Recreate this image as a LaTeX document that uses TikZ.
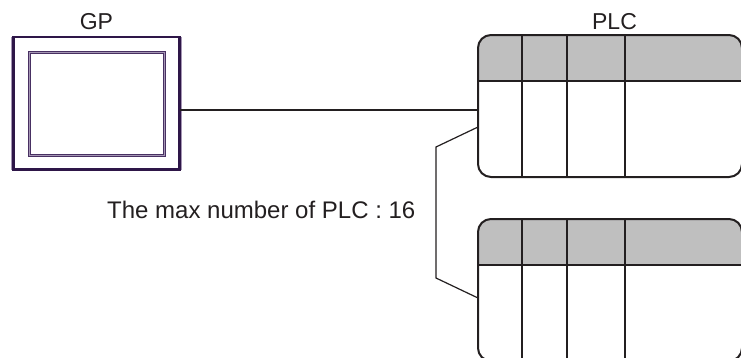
\documentclass[tikz,border=0pt]{standalone}
\usepackage{fontspec}
\setmainfont{Liberation Sans}
\usetikzlibrary{positioning}
\definecolor{gpframe}{RGB}{46,22,72}
\definecolor{gpinner}{RGB}{72,48,98}
\definecolor{gpstripe}{RGB}{165,150,180}
\definecolor{plcline}{RGB}{35,31,32}
\definecolor{plchead}{RGB}{191,191,191}
\tikzset{
	label text/.style={inner sep=0pt, text=plcline, font=\fontsize{23}{26}\selectfont},
	wire/.style={draw=plcline, line width=1.2pt},
	gp frame/.style={rectangle, draw=gpframe, line width=2.8pt, inner sep=0pt, outer sep=0pt,
		minimum width=166.2pt, minimum height=132.5pt},
	gp screen/.style={rectangle, draw=gpinner, line width=1.2pt, double=gpstripe, double distance=.6pt,
		inner sep=0pt, outer sep=0pt, minimum width=135.5pt, minimum height=103.5pt},
	stripe/.style={draw=gpstripe, line width=1.2pt},
	plc box/.style={rectangle, rounded corners=13pt, draw=plcline, line width=2pt,
		inner sep=0pt, outer sep=0pt, minimum width=264pt, minimum height=142pt,
		path picture={
			\fill[plchead, sharp corners] (path picture bounding box.north west) rectangle
				([yshift=-46pt]path picture bounding box.north east);
			\draw[plcline, line width=2pt, sharp corners] ([yshift=-46pt]path picture bounding box.north west) --
				([yshift=-46pt]path picture bounding box.north east);
			\foreach \cellx in {44,89,147}
				\draw[plcline, line width=2pt, sharp corners] ([xshift=\cellx pt]path picture bounding box.north west) --
					([xshift=\cellx pt]path picture bounding box.south west);
		}}
}
\begin{document}
\begin{tikzpicture}[x=1pt,y=-1pt]
\useasboundingbox (0,0) rectangle (741,357);

\node[gp frame] (gp) at (96.4,103.25) {};
\node[gp screen] (screen) at (96.75,103.75) {};
\node[label text, above=7.5pt of gp] (gplabel) {GP};

\draw[stripe] ([xshift=-2pt]gp.north west) -- ([xshift=-2pt]gp.south west);
\draw[stripe] ([xshift=2.2pt]gp.north east) -- ([xshift=2.2pt]gp.south east);

\node[plc box, anchor=north west] (plcA) at (478,35) {};
\node[plc box, anchor=north west] (plcB) at (478,219) {};
\node[label text, above=5.5pt of plcA.north west, xshift=136.5pt, anchor=south] (plclabel) {PLC};

\node[label text, font=\fontsize{24}{26}\selectfont, anchor=base west] (maxlabel) at (107,218) {The max number of PLC : 16};

\coordinate (bendA) at (436,147);
\coordinate (bendB) at (436,278);

\draw[wire] ([yshift=-6.75pt]gp.east) -- ([yshift=-4pt]plcA.west);
\draw[wire] ([yshift=-21pt]plcA.west) -- (bendA) -- (bendB) -- ([yshift=-8pt]plcB.west);

\end{tikzpicture}
\end{document}
